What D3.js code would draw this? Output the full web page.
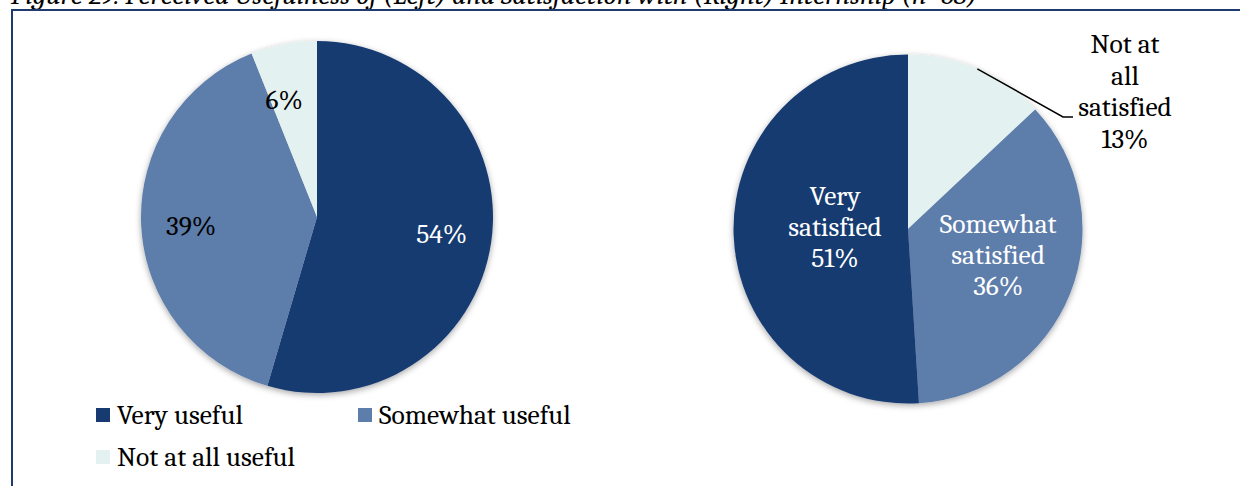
<!DOCTYPE html>
<html>
<head>
<meta charset="utf-8">
<script src="https://cdn.jsdelivr.net/npm/d3@7"></script>
<style>
  html, body { margin: 0; padding: 0; background: #fff; }
  text { font-family: Cambria, "Liberation Serif", serif; }
</style>
</head>
<body>
<script>
// data
const levels = ["Very", "Somewhat", "Not at all"];
const usefulCats = ["Very useful", "Somewhat useful", "Not at all useful"];
const usefulVals = [54, 39, 6];
const satisfiedCats = ["Not at all satisfied", "Somewhat satisfied", "Very satisfied"];
const satisfiedVals = [13, 36, 51];
const satisfiedLines = [["Not at", "all", "satisfied"], ["Somewhat", "satisfied"], ["Very", "satisfied"]];
const title = "Figure 29: Perceived Usefulness of (Left) and Satisfaction with (Right) Internship (n=68)";

const width = 1240, height = 486;
const fontSize = 27.5;

const color = d3.scaleOrdinal()
    .domain(levels)
    .range(["#173a71", "#5d7dab", "#e3f1f1"]);
const levelOf = c => levels.find(l => c.startsWith(l + " "));

const svg = d3.select("body").append("svg")
    .attr("width", width)
    .attr("height", height);

const defs = svg.append("defs");
defs.append("filter")
    .attr("id", "shadow")
    .attr("x", "-10%").attr("y", "-10%")
    .attr("width", "120%").attr("height", "125%")
  .append("feDropShadow")
    .attr("dx", 0).attr("dy", 2)
    .attr("stdDeviation", 3)
    .attr("flood-color", "#000")
    .attr("flood-opacity", 0.35);

// cut-off caption and frame
svg.append("text")
    .attr("x", 11)
    .attr("y", 4)
    .attr("font-style", "italic")
    .attr("font-size", 24)
    .attr("textLength", 966)
    .attr("lengthAdjust", "spacingAndGlyphs")
    .text(title);

svg.append("path")
    .attr("d", "M12,486V10H1240")
    .attr("fill", "none")
    .attr("stroke", "#1f3a6e")
    .attr("stroke-width", 2);

const pie = d3.pie().sort(null);

function drawPie(cats, vals, cx, cy, r, labelR, shifts) {
  const arcs = pie(vals);
  const arc = d3.arc().innerRadius(0).outerRadius(r);
  const labelArc = d3.arc().innerRadius(labelR).outerRadius(labelR);
  const g = svg.append("g").attr("transform", `translate(${cx},${cy})`);

  g.append("g")
      .attr("filter", "url(#shadow)")
    .selectAll("path")
    .data(arcs)
    .join("path")
      .attr("d", arc)
      .attr("fill", (d, i) => color(levelOf(cats[i])));

  return {g, arcs, arc, labelArc};
}

// left pie: usefulness
{
  const {g, arcs, labelArc} = drawPie(usefulCats, usefulVals, 317, 217, 176, 126);
  const shifts = [[0, 0], [0, 4], [-9, 8]];
  g.selectAll(".lbl")
    .data(arcs)
    .join("text")
      .attr("class", "lbl")
      .attr("text-anchor", "middle")
      .attr("font-size", fontSize)
      .attr("fill", (d, i) => i === 0 ? "#fff" : "#000")
      .attr("x", (d, i) => labelArc.centroid(d)[0] + shifts[i][0])
      .attr("y", (d, i) => labelArc.centroid(d)[1] + 8 + shifts[i][1])
      .text(d => d.data + "%");
}

// right pie: satisfaction
{
  const cx = 908, cy = 229, r = 174.5;
  const {g, arcs} = drawPie(satisfiedCats, satisfiedVals, cx, cy, r, 0);
  const lh = 31;
  const inside = [null, {r: 97, dy: -10}, {r: 73, dy: -4}];

  arcs.forEach((d, i) => {
    const lines = satisfiedLines[i].concat([d.data + "%"]);
    let x, y0, fill;
    if (inside[i]) {
      const c = d3.arc().innerRadius(inside[i].r).outerRadius(inside[i].r).centroid(d);
      x = c[0];
      y0 = c[1] + inside[i].dy - (lines.length - 1) * lh / 2 + 9;
      fill = "#fff";
    } else {
      // outside label with leader line
      const edge = d3.arc().innerRadius(r).outerRadius(r).centroid(d);
      const elbow = [1063 - cx, 117 - cy];
      g.append("path")
          .attr("d", d3.line()([edge, elbow, [1073 - cx, elbow[1]]]))
          .attr("fill", "none")
          .attr("stroke", "#000")
          .attr("stroke-width", 1.5);
      x = 1125 - cx;
      y0 = 53 - cy;
      fill = "#000";
    }
    const t = g.append("text")
        .attr("text-anchor", "middle")
        .attr("font-size", fontSize)
        .attr("fill", fill);
    t.selectAll("tspan")
      .data(lines)
      .join("tspan")
        .attr("x", x)
        .attr("y", (s, j) => y0 + j * (inside[i] ? lh : 31.7))
        .text(s => s);
  });
}

// legend for the left pie
const legend = svg.append("g").attr("transform", "translate(96,408)");
const cols = [0, 262], rowH = 42;
const items = legend.selectAll("g")
  .data(usefulCats)
  .join("g")
    .attr("transform", (d, i) => `translate(${cols[i % 2]},${Math.floor(i / 2) * rowH})`);
items.append("rect")
    .attr("width", 14)
    .attr("height", 14)
    .attr("fill", d => color(levelOf(d)));
items.append("text")
    .attr("x", 21)
    .attr("y", 16)
    .attr("font-size", fontSize)
    .attr("fill", "#000")
    .text(d => d);
</script>
</body>
</html>
